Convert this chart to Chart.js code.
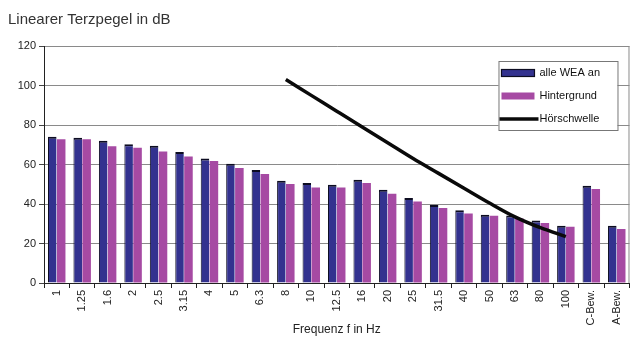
<!DOCTYPE html>
<html>
<head>
<meta charset="utf-8">
<script src="https://cdn.jsdelivr.net/npm/chart.js@4.4.0/dist/chart.umd.min.js"></script>
<style>
  html, body { margin: 0; padding: 0; background: #fff; }
</style>
</head>
<body>
<canvas id="terzChart" width="632" height="340"></canvas>
<script>
// Terzbänder (Hz) plus bewertete Summenpegel
const categories = ['1', '1.25', '1.6', '2', '2.5', '3.15', '4', '5', '6.3', '8',
  '10', '12.5', '16', '20', '25', '31.5', '40', '50', '63', '80', '100', 'C-Bew.', 'A-Bew.'];

// Pegel in dB
const alleWeaAn = [74, 73.5, 72, 70.2, 69.5, 66.3, 63, 60.4, 57.2, 51.8,
  50.6, 49.8, 52.3, 47.2, 43, 39.5, 36.8, 34.6, 34.2, 31.7, 29, 49.3, 29];
const hintergrund = [72.8, 72.8, 69.2, 68.5, 66.6, 64.1, 61.8, 58.2, 55.2, 50.1,
  48.4, 48.4, 50.6, 45.2, 41.3, 38, 35.2, 34.1, 32.6, 30.4, 28.5, 47.6, 27.3];
const hoerschwelle = [null, null, null, null, null, null, null, null, null, 103,
  95, 87, 79, 71, 63, 55.5, 48, 40.5, 33.5, 28, 23.5, null, null];

const yTicks = [0, 20, 40, 60, 80, 100, 120];

const FONT = 'Arial, "Liberation Sans", sans-serif';

// legend box inside the plot area, top right
const boxLegend = {
  id: 'boxLegend',
  afterDraw(chart) {
    const ctx = chart.ctx;
    const area = chart.chartArea;
    const w = 119, h = 69;
    const x0 = area.right - 12 - w;
    const y0 = area.top + 15;
    ctx.save();
    ctx.fillStyle = '#fff';
    ctx.fillRect(x0, y0, w, h);
    ctx.strokeStyle = '#777';
    ctx.lineWidth = 1;
    ctx.strokeRect(x0 + 0.5, y0 + 0.5, w, h);
    ctx.font = '11px ' + FONT;
    ctx.textBaseline = 'middle';
    chart.data.datasets.forEach((ds, i) => {
      const cy = y0 + 12 + i * 23;
      if (ds.type === 'line') {
        ctx.strokeStyle = ds.borderColor;
        ctx.lineWidth = 3.5;
        ctx.beginPath();
        ctx.moveTo(x0 + 1, cy);
        ctx.lineTo(x0 + 40, cy);
        ctx.stroke();
      } else {
        ctx.fillStyle = ds.backgroundColor;
        ctx.fillRect(x0 + 3, cy - 3.5, 33, 7);
        if (ds.borderWidth && ds.borderWidth.top) {
          ctx.strokeStyle = ds.borderColor;
          ctx.lineWidth = 1.2;
          ctx.strokeRect(x0 + 3, cy - 3.5, 33, 7);
        }
      }
      ctx.fillStyle = '#111';
      ctx.fillText(ds.label, x0 + 41, cy);
    });
    ctx.restore();
  }
};

// right border of the plot frame
const rightFrame = {
  id: 'rightFrame',
  beforeDatasetsDraw(chart) {
    const ctx = chart.ctx;
    const a = chart.chartArea;
    ctx.save();
    ctx.strokeStyle = '#8a8a8a';
    ctx.lineWidth = 1;
    ctx.beginPath();
    ctx.moveTo(a.right - 0.5, a.top);
    ctx.lineTo(a.right - 0.5, a.bottom);
    ctx.stroke();
    ctx.restore();
  }
};

const ctx = document.getElementById('terzChart').getContext('2d');
new Chart(ctx, {
  type: 'bar',
  data: {
    labels: categories,
    datasets: [
      {
        label: 'alle WEA an',
        data: alleWeaAn,
        backgroundColor: '#33328f',
        borderColor: '#0d0d22',
        borderWidth: { top: 2, left: 1, right: 0, bottom: 0 },
        borderSkipped: false,
        categoryPercentage: 0.7,
        barPercentage: 0.96,
        order: 1
      },
      {
        label: 'Hintergrund',
        data: hintergrund,
        backgroundColor: '#a64aa3',
        borderWidth: 0,
        categoryPercentage: 0.7,
        barPercentage: 0.96,
        order: 1
      },
      {
        type: 'line',
        label: 'Hörschwelle',
        data: hoerschwelle,
        borderColor: '#0a0a0a',
        borderWidth: 3.5,
        pointRadius: 0,
        cubicInterpolationMode: 'monotone',
        spanGaps: false,
        order: 0
      }
    ]
  },
  options: {
    responsive: false,
    animation: false,
    layout: { padding: { left: 8, right: 2, top: 0, bottom: 0 } },
    plugins: {
      legend: { display: false },
      tooltip: { enabled: false },
      title: {
        display: true,
        text: 'Linearer Terzpegel in dB',
        align: 'start',
        color: '#333',
        font: { family: FONT, size: 15, weight: 'normal' },
        padding: { top: 11, bottom: 17 }
      }
    },
    scales: {
      x: {
        offset: true,
        grid: {
          offset: true,
          drawOnChartArea: false,
          drawTicks: true,
          tickLength: 5,
          tickColor: '#222'
        },
        border: { color: '#222', width: 1 },
        ticks: {
          autoSkip: false,
          minRotation: 90,
          maxRotation: 90,
          padding: 2,
          color: '#222',
          font: { family: FONT, size: 11 }
        },
        title: {
          display: true,
          text: 'Frequenz f in Hz',
          color: '#222',
          font: { family: FONT, size: 12 },
          padding: { top: 0, bottom: 3 }
        },
        afterFit(scale) { scale.height = 57; }
      },
      y: {
        min: yTicks[0],
        max: yTicks[yTicks.length - 1],
        ticks: {
          stepSize: yTicks[1] - yTicks[0],
          padding: 3,
          color: '#222',
          font: { family: FONT, size: 11 }
        },
        grid: {
          color: '#8a8a8a',
          tickLength: 5,
          tickColor: '#444'
        },
        border: { color: '#222', width: 1 },
        afterFit(scale) { scale.width = 36; }
      }
    }
  },
  plugins: [rightFrame, boxLegend]
});
</script>
</body>
</html>
